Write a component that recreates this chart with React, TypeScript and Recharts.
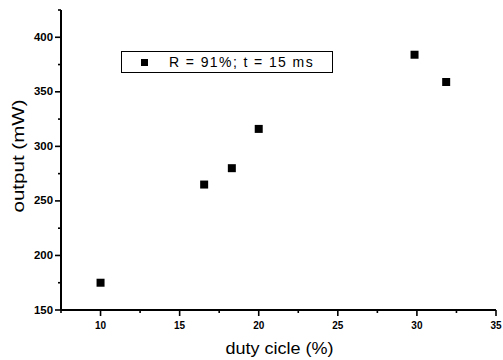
import React from 'react';
import { ScatterChart, Scatter, XAxis, YAxis, ZAxis, Legend } from 'recharts';

// duty cycle (%) and measured output (mW)
const dutyCycle = [10, 16.55, 18.3, 20, 29.85, 31.85];
const outputMw = [175, 265, 280, 316, 384, 359];
const seriesName = 'R = 91%; t = 15 ms';

const xTicks = [7.5, 10, 12.5, 15, 17.5, 20, 22.5, 25, 27.5, 30, 32.5, 35];
const yTicks = [150, 175, 200, 225, 250, 275, 300, 325, 350, 375, 400, 425];

const points = dutyCycle.map((d, i) => ({ x: d, y: outputMw[i] }));

const FONT = '"Liberation Sans", Arial, Helvetica, sans-serif';

const XTick = (props: any) => {
  const { x, y, payload } = props;
  const major = payload.value % 5 === 0;
  return (
    <g>
      <line x1={x} y1={y} x2={x} y2={y + (major ? 6 : 3)} stroke="#000" strokeWidth={1.6} />
      {major && (
        <text x={x} y={y + 19} textAnchor="middle" fontSize={10} fontWeight="bold" fontFamily={FONT} fill="#000">
          {payload.value}
        </text>
      )}
    </g>
  );
};

const YTick = (props: any) => {
  const { x, y, payload } = props;
  const major = payload.value % 50 === 0;
  return (
    <g>
      <line x1={x} y1={y} x2={x - (major ? 6 : 3)} y2={y} stroke="#000" strokeWidth={1.6} />
      {major && (
        <text
          x={x - 8}
          y={y + 3.5}
          textAnchor="end"
          fontSize={10}
          fontWeight="bold"
          fontFamily={FONT}
          fill="#000"
          textLength={19}
          lengthAdjust="spacingAndGlyphs"
        >
          {payload.value}
        </text>
      )}
    </g>
  );
};

const YTitle = ({ viewBox }: any) => {
  const cx = 24;
  const cy = viewBox.y + viewBox.height / 2 - 4;
  return (
    <text
      x={cx}
      y={cy}
      transform={`rotate(-90 ${cx} ${cy})`}
      textAnchor="middle"
      fontSize={16}
      fontFamily={FONT}
      fill="#000"
      textLength={113}
      lengthAdjust="spacingAndGlyphs"
    >
      output (mW)
    </text>
  );
};

const XTitle = ({ viewBox }: any) => (
  <text
    x={viewBox.x + viewBox.width / 2 + 1}
    y={viewBox.y + 44}
    textAnchor="middle"
    fontSize={16}
    fontFamily={FONT}
    fill="#000"
    textLength={108}
    lengthAdjust="spacingAndGlyphs"
  >
    duty cicle (%)
  </text>
);

const LegendBox = () => (
  <div
    style={{
      width: 212,
      height: 22,
      border: '1px solid #000',
      boxSizing: 'border-box',
      display: 'flex',
      alignItems: 'center',
      background: '#fff',
      fontFamily: FONT,
      fontSize: 14,
      color: '#000',
    }}
  >
    <span style={{ width: 7, height: 7, background: '#000', marginLeft: 19, marginRight: 21 }} />
    <span style={{ letterSpacing: 1.4, whiteSpace: 'nowrap' }}>{seriesName}</span>
  </div>
);

const axisLine = { stroke: '#000', strokeWidth: 2 };

export default function App() {
  return (
    <div style={{ width: 503, height: 360, background: '#fff' }}>
      <style>{'body{margin:0}'}</style>
      <ScatterChart width={503} height={360} margin={{ top: 10, right: 7, left: 0, bottom: 0 }}>
        <XAxis
          xAxisId="b"
          type="number"
          dataKey="x"
          domain={[7.5, 35]}
          ticks={xTicks}
          interval={0}
          height={50}
          tickSize={0}
          tickMargin={0}
          tickLine={false}
          tick={<XTick />}
          stroke="#000"
          axisLine={axisLine}
          allowDataOverflow
          label={<XTitle />}
        />
        <XAxis
          xAxisId="t"
          orientation="top"
          type="number"
          domain={[7.5, 35]}
          ticks={xTicks}
          interval={0}
          height={0}
          tickSize={2}
          tick={false}
          stroke="#000"
          tickLine={{ stroke: '#000' }}
          axisLine={axisLine}
        />
        <YAxis
          yAxisId="l"
          type="number"
          dataKey="y"
          domain={[150, 425]}
          ticks={yTicks}
          interval={0}
          width={61}
          tickSize={0}
          tickMargin={0}
          tickLine={false}
          tick={<YTick />}
          stroke="#000"
          axisLine={axisLine}
          allowDataOverflow
          label={<YTitle />}
        />
        <YAxis
          yAxisId="r"
          orientation="right"
          type="number"
          domain={[150, 425]}
          ticks={yTicks}
          interval={0}
          width={0}
          tickSize={2}
          tick={false}
          stroke="#000"
          tickLine={{ stroke: '#000' }}
          axisLine={axisLine}
        />
        <ZAxis range={[56, 56]} />
        <Legend
          layout="horizontal"
          verticalAlign="middle"
          align="center"
          content={<LegendBox />}
          wrapperStyle={{ position: 'absolute', top: 51, left: 121, width: 212 }}
        />
        <Scatter
          name={seriesName}
          data={points}
          xAxisId="b"
          yAxisId="l"
          shape="square"
          fill="#000"
          isAnimationActive={false}
        />
      </ScatterChart>
    </div>
  );
}
